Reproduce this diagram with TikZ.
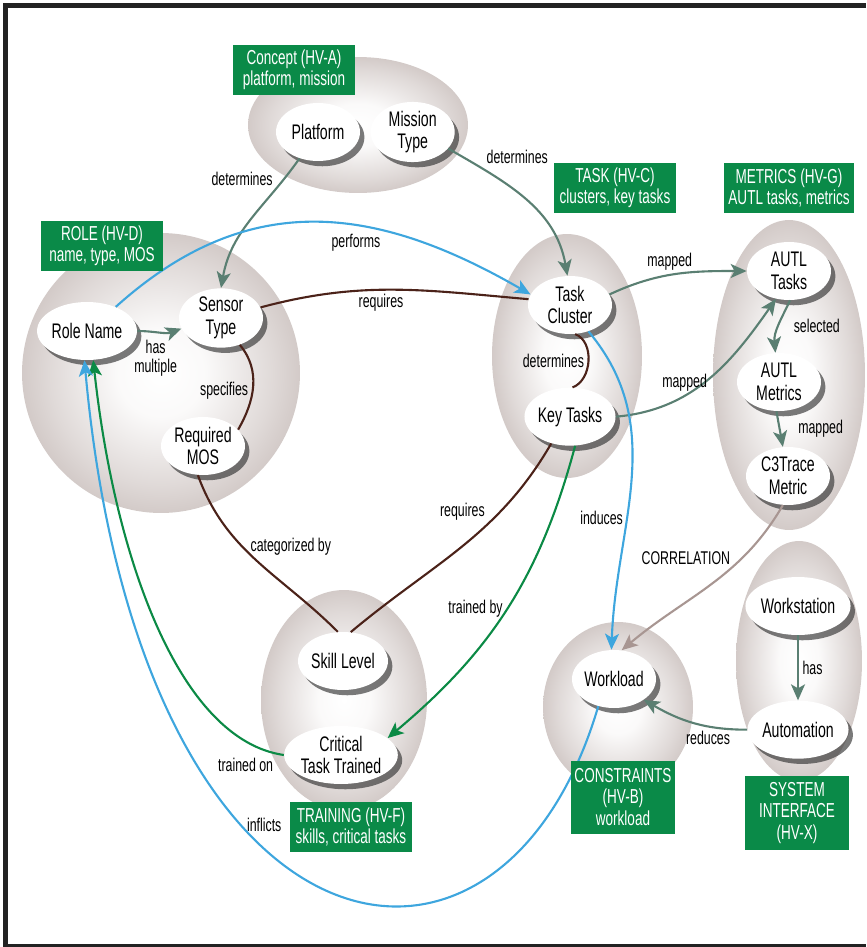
\documentclass[tikz,border=0pt]{standalone}
\usepackage{fontspec}
\setmainfont{Liberation Sans}[FakeStretch=0.67]
\usetikzlibrary{arrows.meta, positioning, shapes.geometric, shadows}
\definecolor{zonegrey}{RGB}{198,187,184}
\definecolor{taggreen}{RGB}{10,138,72}
\definecolor{linkgrey}{RGB}{90,127,114}
\definecolor{linkblue}{RGB}{62,166,222}
\definecolor{tiebrown}{RGB}{75,34,25}
\definecolor{traingreen}{RGB}{11,138,69}
\definecolor{corrbrown}{RGB}{168,150,146}
\definecolor{framedark}{RGB}{34,34,34}
\pgfdeclareradialshading{zoneball}{\pgfpoint{0bp}{0bp}}{color(0bp)=(white);
    color(8bp)=(white!92!zonegrey); color(20bp)=(white!45!zonegrey);
    color(30bp)=(zonegrey); color(50bp)=(zonegrey)}
\tikzset{
    hvzone/.style={shading=zoneball},
    hvitem/.style={ellipse, fill=white, align=center, minimum width=1.68cm, minimum height=1.16cm,
        inner sep=0pt, font=\fontsize{12}{13}\selectfont,
        drop shadow={shadow xshift=2.5pt, shadow yshift=-3pt, fill=black!80, opacity=.65}},
    hvtag/.style={fill=taggreen, text=white, align=center, inner sep=2pt,
        minimum width=2.44cm, minimum height=1cm, font=\fontsize{11.5}{12}\selectfont},
    hvlink/.style={-{Stealth[length=3.2mm, width=2.8mm, inset=0.8mm]}, line width=1.2pt, draw=linkgrey},
    hvtie/.style={line width=1.2pt, draw=tiebrown},
    hvlabel/.style={font=\fontsize{10.5}{11}\selectfont, inner sep=2pt, align=center}
}
\begin{document}
\begin{tikzpicture}[x=0.02cm, y=0.02cm]
  \useasboundingbox (0,0) rectangle (866,-947);
  % frame
  \fill[framedark] (3,-3) rectangle (866,-8);
  \fill[framedark] (3,-3) rectangle (8,-947);
  \fill[framedark] (3,-944) rectangle (866,-947);
  % shaded zones
  \foreach \cx/\cy/\rx/\ry in {358/125/2.2cm/1.36cm, 161/373/2.78cm/2.8cm, 567/356/1.5cm/2.44cm,
      789/375/1.52cm/3.1cm, 344/700/1.66cm/2.2cm, 618/707/1.5cm/1.7cm, 799/661/1.26cm/2.4cm}
    \shade[hvzone] (\cx,-\cy) ellipse [x radius=\rx, y radius=\ry];

  % items
  \node[hvitem] (platform) at (318,-132) {Platform};
  \node[hvitem, right=0.2cm of platform] (mission) {Mission\\Type};
  \node[hvitem] (rolename) at (87,-331) {Role Name};
  \node[hvitem] (sensor) at (221,-318) {Sensor\\Type};
  \node[hvitem] (reqmos) at (203,-446) {Required\\MOS};
  \node[hvitem] (cluster) at (570,-305) {Task\\Cluster};
  \node[hvitem, below=1.06cm of cluster] (keytasks) {Key Tasks};
  \node[hvitem] (autltasks) at (789,-271) {AUTL\\Tasks};
  \node[hvitem] (autlmetrics) at (779,-382) {AUTL\\Metrics};
  \node[hvitem] (c3trace) at (788,-476) {C3Trace\\Metric};
  \node[hvitem] (skill) at (343,-661) {Skill Level};
  \node[hvitem] (critical) at (341,-755) {Critical\\Task Trained};
  \node[hvitem] (workload) at (614,-679) {Workload};
  \node[hvitem] (workstation) at (798,-606) {Workstation};
  \node[hvitem, below=1.3cm of workstation] (automation) {Automation};

  % concept links
  \draw[hvlink] (platform.235) to[out=235, in=80]
        node[hvlabel, pos=.15, left=4pt] {determines} (sensor.north);
  \draw[hvlink] (mission.-25) to[out=-30, in=100]
        node[hvlabel, pos=.2, anchor=south west] {determines} (cluster.95);
  % role links
  \draw[hvlink, draw=linkblue] (rolename.40) to[out=42, in=150, looseness=1.1]
        node[hvlabel, pos=.6, below=2pt] {performs} (cluster.165);
  \draw[hvlink] (rolename.east) to[out=0, in=200]
        node[hvlabel, pos=.4, below=2pt] {has\\multiple} (sensor.195);
  \draw[hvtie] (sensor.15) to[out=15, in=175]
        node[hvlabel, pos=.45, below] {requires} (cluster.172);
  \draw[hvtie] (sensor.-55) to[out=-50, in=60]
        node[hvlabel, pos=.55, left] {specifies} (reqmos.25);
  % task links
  \draw[hvtie] (cluster.-80) to[out=-20, in=20]
        node[hvlabel, pos=.5, left] {determines} (keytasks.85);
  \draw[hvlink] (cluster.15) to[out=25, in=180]
        node[hvlabel, pos=.45, above] {mapped} (autltasks.west);
  \draw[hvlink] (keytasks.east) to[out=5, in=235]
        node[hvlabel, pos=.35, above] {mapped} (autltasks.-115);
  % metrics links
  \draw[hvlink] (autltasks.-88) to[out=-115, in=95]
        node[hvlabel, pos=.5, right=6pt] {selected} (autlmetrics.97);
  \draw[hvlink] (autlmetrics.-95) to[out=-80, in=100]
        node[hvlabel, pos=.5, right=8pt] {mapped} (c3trace.100);
  \draw[hvlink, draw=corrbrown] (c3trace.-100) to[out=-120, in=40]
        node[hvlabel, pos=.3, left=4pt] {CORRELATION} (workload.75);
  \draw[hvlink, draw=linkblue] (cluster.-55) to[out=-50, in=88]
        node[hvlabel, pos=.62, left] {induces} (workload.95);
  % training links
  \draw[hvtie] (reqmos.-100) to[out=-70, in=135]
        node[hvlabel, pos=.4, right=2pt] {categorized by} (skill.100);
  \draw[hvtie] (keytasks.-125) to[out=-120, in=40]
        node[hvlabel, pos=.3, left=6pt] {requires} (skill.75);
  \draw[hvlink, draw=traingreen] (keytasks.-80) to[out=-105, in=40]
        node[hvlabel, pos=.5, left] {trained by} (critical.20);
  \draw[hvlink, draw=traingreen] (critical.west) .. controls (180,-740) and (115,-560) ..
        node[hvlabel, pos=.02, below left] {trained on} (rolename.-78);
  \draw[hvlink, draw=linkblue] (workload.-120) .. controls (500,-1040) and (140,-975) ..
        node[hvlabel, pos=.63, anchor=west] {inflicts} (rolename.-95);
  % system links
  \draw[hvlink] (workstation) -- node[hvlabel, right] {has} (automation);
  \draw[hvlink] (automation.west) to[out=180, in=-30]
        node[hvlabel, pos=.35, below] {reduces} (workload.-35);

  % tags
  \node[hvtag] (tagconcept) at (294,-70) {Concept (HV-A)\\platform, mission};
  \node[hvtag] (tagrole) at (102,-246) {ROLE (HV-D)\\name, type, MOS};
  \node[hvtag] (tagtask) at (615,-188) {TASK (HV-C)\\clusters, key tasks};
  \node[hvtag, minimum width=2.6cm] (tagmetrics) at (789,-188) {METRICS (HV-G)\\AUTL tasks, metrics};
  \node[hvtag] (tagtraining) at (351,-827) {TRAINING (HV-F)\\skills, critical tasks};
  \node[hvtag, minimum width=2.08cm, minimum height=1.46cm] (tagconstraints) at (623,-797)
        {CONSTRAINTS\\(HV-B)\\workload};
  \node[hvtag, minimum width=2.08cm, minimum height=1.48cm] (tagsystem) at (797,-813)
        {SYSTEM\\INTERFACE\\(HV-X)};
\end{tikzpicture}
\end{document}
